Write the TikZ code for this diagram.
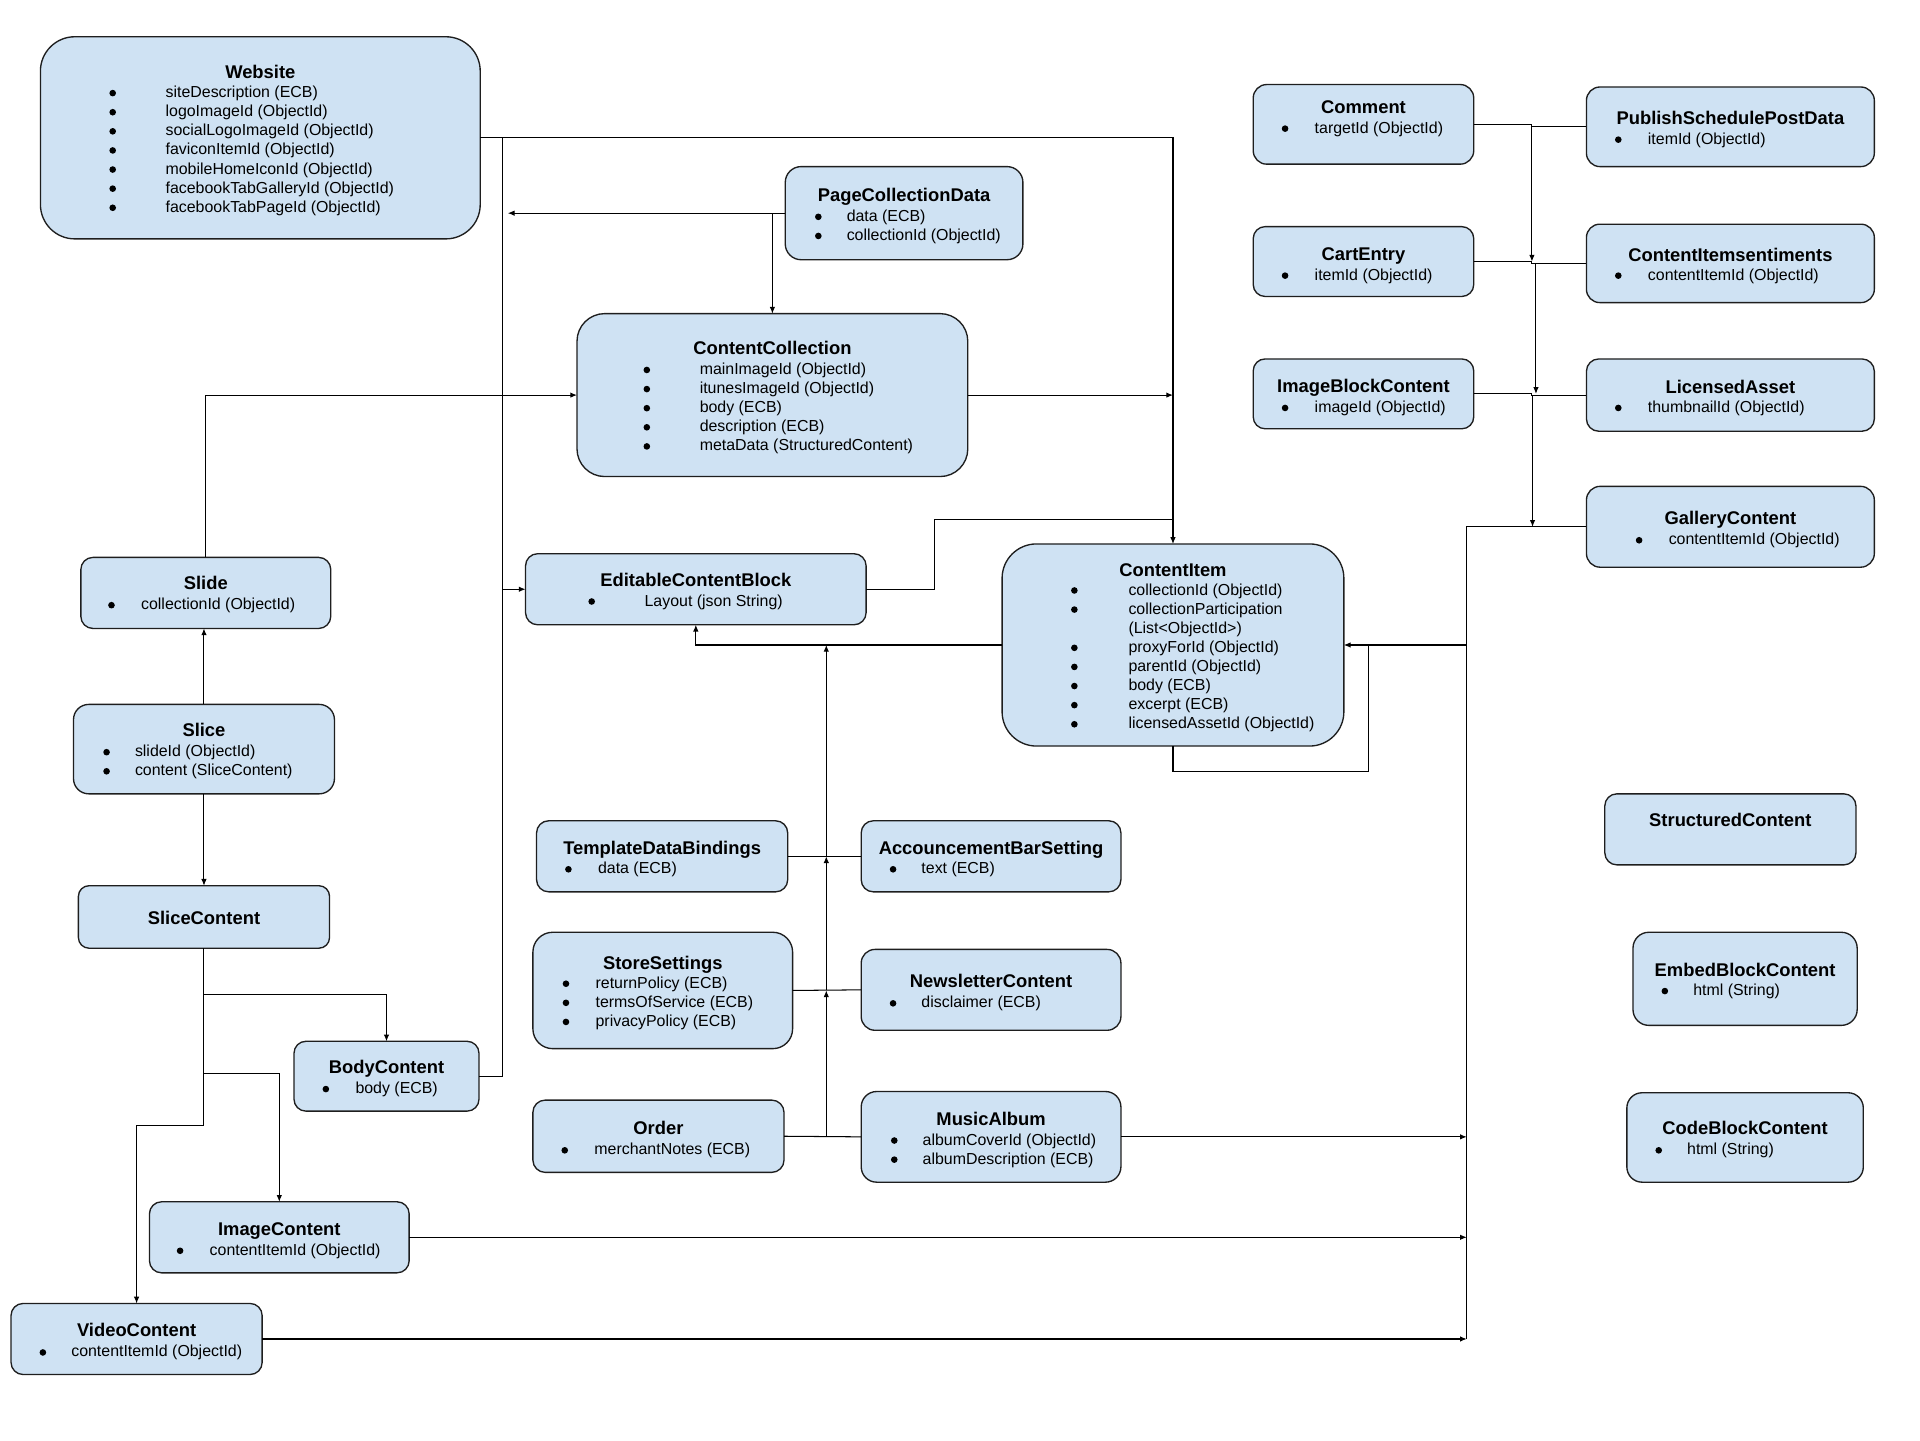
\documentclass[tikz,border=0pt]{standalone}
\usepackage{fontspec}
\setmainfont{Liberation Sans}
\usetikzlibrary{arrows.meta}
\definecolor{boxfill}{HTML}{CFE2F3}
\definecolor{boxline}{HTML}{1E1E1E}
\tikzset{
  ent/.style={draw=boxline, fill=boxfill, line width=1.1pt, inner sep=0pt, outer sep=0pt},
  ttl/.style={font=\bfseries\fontsize{15}{18}\selectfont, inner sep=0pt, text height=10.7pt, text depth=0pt},
  itm/.style={font=\fontsize{13}{15.6}\selectfont, inner sep=0pt, text height=9.4pt, text depth=0pt, anchor=west},
  bul/.style={circle, fill=black, draw=none, inner sep=0pt, minimum size=5.4pt},
  ln/.style={line width=0.85pt, draw=black},
  arr/.style={ln, -{Latex[length=5.5pt,width=4.5pt]}}
}
\newcommand\ebox[5]{%
  \pgfmathsetmacro\ww{#4-#2}\pgfmathsetmacro\hh{#5-#3}%
  \pgfmathsetmacro\cx{(#2+#4)/2}\pgfmathsetmacro\cy{(#3+#5)/2}%
  \pgfmathsetmacro\rr{0.17*min(\ww,\hh)}%
  \node[ent, minimum width=\ww pt, minimum height=\hh pt, rounded corners=\rr pt] (#1) at (\cx,\cy) {};}
\newcommand\etitle[4]{\node[ttl] (#1) at (#2,#3) {#4};}
\newcommand\eitems[5]{%
  \foreach \t [count=\i from 0] in {#5} {%
    \node[bul] (#1-b\i) at ({#2},{#4+1+15.6*\i}) {};
    \node[itm] (#1-i\i) at ({#3},{#4+15.6*\i}) {\t};}}
\begin{document}
\begin{tikzpicture}[x=1pt,y=-1pt]
\useasboundingbox (0,0) rectangle (1567.3,1175.5);

% ---------------- boxes ----------------
\ebox{website}{33}{30}{392}{195}
\etitle{website-t}{212.5}{59}{Website}
\eitems{website}{92}{135}{75}{siteDescription (ECB),logoImageId (ObjectId),socialLogoImageId (ObjectId),faviconItemId (ObjectId),mobileHomeIconId (ObjectId),facebookTabGalleryId (ObjectId),facebookTabPageId (ObjectId)}

\ebox{pcd}{641}{136}{835}{212}
\etitle{pcd-t}{738}{159}{PageCollectionData}
\eitems{pcd}{668}{691}{176}{data (ECB),collectionId (ObjectId)}

\ebox{cc}{471}{256}{790}{389}
\etitle{cc-t}{630.5}{284}{ContentCollection}
\eitems{cc}{528}{571}{301}{mainImageId (ObjectId),itunesImageId (ObjectId),body (ECB),description (ECB),metaData (StructuredContent)}

\ebox{comment}{1023}{69}{1203}{134}
\etitle{comment-t}{1113}{87}{Comment}
\eitems{comment}{1049}{1073}{104}{targetId (ObjectId)}

\ebox{cart}{1023}{185}{1203}{242}
\etitle{cart-t}{1113}{207}{CartEntry}
\eitems{cart}{1049}{1073}{224}{itemId (ObjectId)}

\ebox{ibc}{1023}{293}{1203}{350}
\etitle{ibc-t}{1113}{315}{ImageBlockContent}
\eitems{ibc}{1049}{1073}{332}{imageId (ObjectId)}

\ebox{pspd}{1295}{71}{1530}{136}
\etitle{pspd-t}{1412.5}{96}{PublishSchedulePostData}
\eitems{pspd}{1321}{1345}{113}{itemId (ObjectId)}

\ebox{cis}{1295}{183}{1530}{247}
\etitle{cis-t}{1412.5}{208}{ContentItemsentiments}
\eitems{cis}{1321}{1345}{224}{contentItemId (ObjectId)}

\ebox{lic}{1295}{293}{1530}{352}
\etitle{lic-t}{1412.5}{316}{LicensedAsset}
\eitems{lic}{1321}{1345}{332}{thumbnailId (ObjectId)}

\ebox{gallery}{1295}{397}{1530}{463}
\etitle{gallery-t}{1412.5}{423}{GalleryContent}
\eitems{gallery}{1338}{1362}{440}{contentItemId (ObjectId)}

\ebox{slide}{66}{455}{270}{513}
\etitle{slide-t}{168}{476}{Slide}
\eitems{slide}{91}{115}{493}{collectionId (ObjectId)}

\ebox{ecb}{429}{452}{707}{510}
\etitle{ecb-t}{568}{473}{EditableContentBlock}
\eitems{ecb}{483}{526}{490}{Layout (json String)}

\ebox{citem}{818}{444}{1097}{609}
\etitle{citem-t}{957.5}{465}{ContentItem}
\eitems{citem}{877}{921}{481}{collectionId (ObjectId),collectionParticipation}
\node[itm] (citem-cont) at (921,512.2) {(List<ObjectId>)};
\eitems{citemb}{877}{921}{527.8}{proxyForId (ObjectId),parentId (ObjectId),body (ECB),excerpt (ECB),licensedAssetId (ObjectId)}

\ebox{slice}{60}{575}{273}{648}
\etitle{slice-t}{166.5}{596}{Slice}
\eitems{slice}{87}{110}{613}{slideId (ObjectId),content (SliceContent)}

\ebox{slicec}{64}{723}{269}{774}
\etitle{slicec-t}{166.5}{749}{SliceContent}

\ebox{tdb}{438}{670}{643}{728}
\etitle{tdb-t}{540.5}{692}{TemplateDataBindings}
\eitems{tdb}{464}{488}{708.6}{data (ECB)}

\ebox{abs}{703}{670}{915}{728}
\etitle{abs-t}{809}{692}{AccouncementBarSetting}
\eitems{abs}{729}{752}{708.6}{text (ECB)}

\ebox{store}{435}{761}{647}{856}
\etitle{store-t}{541}{786}{StoreSettings}
\eitems{store}{462}{486}{802}{returnPolicy (ECB),termsOfService (ECB),privacyPolicy (ECB)}

\ebox{news}{703}{775}{915}{841}
\etitle{news-t}{809}{801}{NewsletterContent}
\eitems{news}{729}{752}{818}{disclaimer (ECB)}

\ebox{body}{240}{850}{391}{907}
\etitle{body-t}{315.5}{871}{BodyContent}
\eitems{body}{266}{290}{888}{body (ECB)}

\ebox{order}{435}{898}{640}{957}
\etitle{order-t}{537.5}{921}{Order}
\eitems{order}{461}{485}{938}{merchantNotes (ECB)}

\ebox{music}{703}{891}{915}{965}
\etitle{music-t}{809}{913}{MusicAlbum}
\eitems{music}{730}{753}{930}{albumCoverId (ObjectId),albumDescription (ECB)}

\ebox{imgc}{122}{981}{334}{1039}
\etitle{imgc-t}{228}{1003}{ImageContent}
\eitems{imgc}{147}{171}{1020}{contentItemId (ObjectId)}

\ebox{video}{9}{1064}{214}{1122}
\etitle{video-t}{111.5}{1086}{VideoContent}
\eitems{video}{35}{58}{1103}{contentItemId (ObjectId)}

\ebox{sc}{1310}{648}{1515}{706}
\etitle{sc-t}{1412.5}{669}{StructuredContent}

\ebox{embed}{1333}{761}{1516}{837}
\etitle{embed-t}{1424.5}{792}{EmbedBlockContent}
\eitems{embed}{1359}{1382}{808}{html (String)}

\ebox{code}{1328}{892}{1521}{965}
\etitle{code-t}{1424.5}{921}{CodeBlockContent}
\eitems{code}{1354}{1377}{938}{html (String)}

% ---------------- helper coordinates ----------------
\coordinate (xw) at (410,0);
\coordinate (jB) at (410,112.5);
\coordinate (pcdTip) at (414.5,174);
\coordinate (ecbK) at (762.8,423.7);
\coordinate (xv) at (674.5,0);
\coordinate (loopR) at (1117,629.6);
\coordinate (xr) at (1197.3,0);
\coordinate (xa) at (1250.5,0);
\coordinate (xb) at (1253.8,0);
\coordinate (xc) at (1251,0);
\coordinate (sc1) at (166.5,811.6);
\coordinate (sc2) at (166.5,876.5);
\coordinate (sc3) at (166.5,918.6);

% ---------------- connectors ----------------
% Website -> ContentItem
\draw[arr] (website.east) -| (citem.north);
% BodyContent -> EditableContentBlock (trunk up to the Website line)
\draw[ln] (body.east) -| (jB);
\draw[arr] (ecb.west -| xw) -- (ecb.west);
% PageCollectionData -> Website, -> ContentCollection
\draw[arr] (pcd.west) -- (pcdTip);
\draw[arr] (pcd.west -| cc.north) -- (cc.north);
% ContentCollection -> ContentItem line
\draw[arr] (cc.east) -- (cc.east -| citem.north);
% Slide -> ContentCollection
\draw[arr] (slide.north) |- (cc.west);
% Slice -> Slide, Slice -> SliceContent
\draw[arr] (slice.north) -- (slice.north |- slide.south);
\draw[arr] (slice.south) -- (slicec.north);
% SliceContent -> Body/Image/Video
\draw[ln] (slicec.south) -- (sc3);
\draw[arr] (sc3) -| (video.north);
\draw[arr] (sc1) -| (body.north);
\draw[arr] (sc2) -| (imgc.north);
% EditableContentBlock -> ContentItem line
\draw[ln] (ecb.east) -| (ecbK) -- (ecbK -| citem.north);
% ContentItem -> EditableContentBlock
\draw[arr] (citem.west) -| (ecb.south);
% ECB users column
\draw[ln] (tdb.east) -- (abs.west);
\draw[ln] (store.east) -- (news.west);
\draw[ln] (order.east) -- (music.west);
\draw[arr] (order.east -| xv) -- (store.east -| xv);
\draw[arr] (store.east -| xv) -- (tdb.east -| xv);
\draw[arr] (tdb.east -| xv) -- (citem.west -| xv);
% ContentItem self reference
\draw[ln] (citem.south) |- (loopR) -- (loopR |- citem.east);
% Gallery -> ContentItem
\draw[arr] (gallery.west) -| (xr |- citem.east) -- (citem.east);
% bottom collector
\draw[ln] (xr |- citem.east) -- (xr |- video.east);
\draw[arr] (music.east) -- (music.east -| xr);
\draw[arr] (imgc.east) -- (imgc.east -| xr);
\draw[arr] (video.east) -- (video.east -| xr);
% right cluster
\draw[ln] (comment.east) -- (xa |- comment.east) -- (xa |- pspd.west) -- (pspd.west);
\draw[ln] (cart.east) -- (xa |- cart.east) -- (xa |- cis.west) -- (cis.west);
\draw[ln] (ibc.east) -- (xa |- ibc.east) -- (xa |- lic.west) -- (lic.west);
\draw[arr] (xa |- pspd.west) -- (xa |- cart.east);
\draw[arr] (xb |- cis.west) -- (xb |- ibc.east);
\draw[arr] (xc |- lic.west) -- (xc |- gallery.west);
\end{tikzpicture}
\end{document}
